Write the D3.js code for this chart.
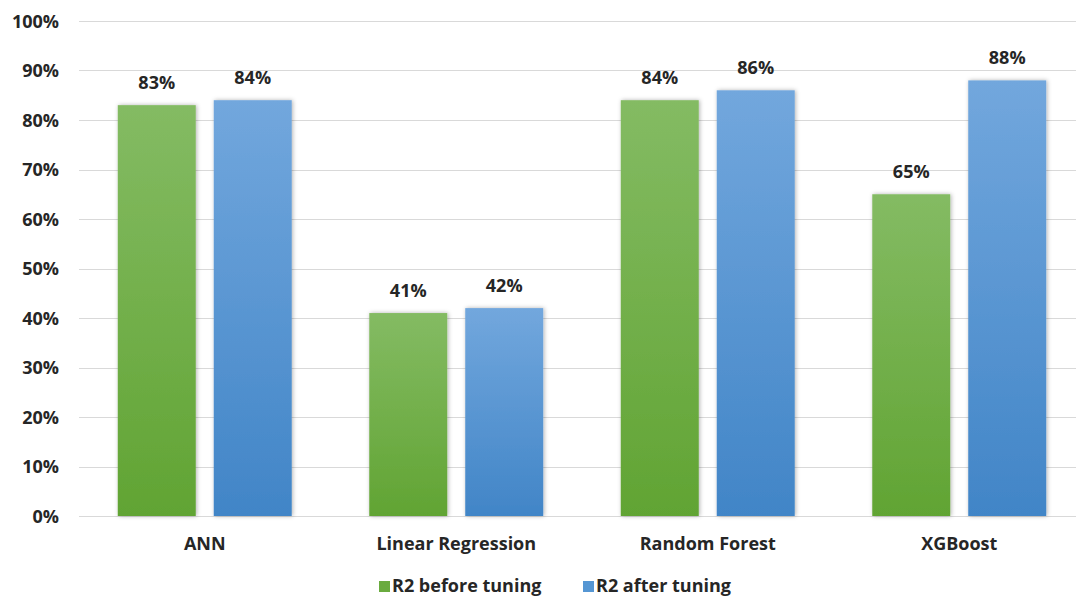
<!DOCTYPE html>
<html>
<head>
<meta charset="utf-8">
<script src="https://cdn.jsdelivr.net/npm/d3@7"></script>
<style>
  html, body { margin: 0; padding: 0; background: #fff; }
  svg text { font-family: "Open Sans", Lato, "Liberation Sans", sans-serif; font-weight: bold; fill: #262626; }
</style>
</head>
<body>
<svg id="chart" width="1076" height="598"></svg>
<script>
// Model accuracy (R2) before and after hyper-parameter tuning
const models = ["ANN", "Linear Regression", "Random Forest", "XGBoost"];
const before = [0.83, 0.41, 0.84, 0.65];
const after = [0.84, 0.42, 0.86, 0.88];
const seriesNames = ["R2 before tuning", "R2 after tuning"];
const yTicks = [0, 0.1, 0.2, 0.3, 0.4, 0.5, 0.6, 0.7, 0.8, 0.9, 1.0];

const svg = d3.select("#chart");
const plot = { left: 79, right: 1085, top: 21, bottom: 516 };

const x = d3.scaleBand().domain(models).range([plot.left, plot.right]).paddingInner(0).paddingOuter(0);
const inner = d3.scaleBand().domain(seriesNames).range([0, x.bandwidth()]).paddingInner(0.1875).paddingOuter(0.404);
const y = d3.scaleLinear().domain([0, 1]).range([plot.bottom, plot.top]);

const defs = svg.append("defs");
const grads = [
  { id: "gGreen", top: "#84bb63", bottom: "#61a433" },
  { id: "gBlue", top: "#72a7dd", bottom: "#4185c7" }
];
grads.forEach(g => {
  const lg = defs.append("linearGradient").attr("id", g.id).attr("x1", 0).attr("y1", 0).attr("x2", 0).attr("y2", 1);
  lg.append("stop").attr("offset", "0%").attr("stop-color", g.top);
  lg.append("stop").attr("offset", "100%").attr("stop-color", g.bottom);
});
const shadow = defs.append("filter").attr("id", "shadow").attr("x", "-20%").attr("y", "-10%").attr("width", "140%").attr("height", "120%");
shadow.append("feDropShadow").attr("dx", 1).attr("dy", 0).attr("stdDeviation", 2).attr("flood-color", "#000").attr("flood-opacity", 0.3);

// Grid lines
svg.append("g")
  .selectAll("line")
  .data(yTicks)
  .join("line")
  .attr("x1", plot.left).attr("x2", 1076)
  .attr("y1", d => Math.round(y(d)) + 0.5).attr("y2", d => Math.round(y(d)) + 0.5)
  .attr("stroke", "#d9d9d9").attr("stroke-width", 1);

// Y axis labels
const yAxis = d3.axisLeft(y).tickValues(yTicks).tickFormat(d3.format(".0%")).tickSize(0).tickPadding(0);
const yg = svg.append("g").attr("transform", `translate(${plot.left - 20},0)`).call(yAxis);
yg.select(".domain").remove();
yg.selectAll("text").attr("font-size", 18).attr("dy", "0.35em").style("font-family", null);

// Bars
const series = [
  { name: seriesNames[0], values: before, fill: "url(#gGreen)" },
  { name: seriesNames[1], values: after, fill: "url(#gBlue)" }
];
series.forEach(s => {
  const g = svg.append("g");
  g.selectAll("rect")
    .data(models.map((m, i) => ({ m, v: s.values[i] })))
    .join("rect")
    .attr("x", d => x(d.m) + inner(s.name))
    .attr("width", inner.bandwidth())
    .attr("y", d => y(d.v))
    .attr("height", d => y(0) - y(d.v))
    .attr("fill", s.fill)
    .attr("filter", "url(#shadow)");
  g.selectAll("text")
    .data(models.map((m, i) => ({ m, v: s.values[i] })))
    .join("text")
    .attr("x", d => x(d.m) + inner(s.name) + inner.bandwidth() / 2)
    .attr("y", d => y(d.v) - 16)
    .attr("text-anchor", "middle")
    .attr("font-size", 18)
    .text(d => d3.format(".0%")(d.v));
});

// Category labels
const xAxis = d3.axisBottom(x).tickSize(0).tickPadding(0);
const xg = svg.append("g").attr("transform", `translate(0,${plot.bottom + 34})`).call(xAxis);
xg.select(".domain").remove();
xg.selectAll("text").attr("font-size", 18).attr("dy", 0).style("font-family", null);

// Legend
const legendItems = [
  { name: seriesNames[0], color: "#6aab3f", x: 379 },
  { name: seriesNames[1], color: "#5596d3", x: 583 }
];
const lg = svg.append("g");
legendItems.forEach(it => {
  lg.append("rect").attr("x", it.x).attr("y", 581).attr("width", 11).attr("height", 11).attr("fill", it.color);
  lg.append("text").attr("x", it.x + 13).attr("y", 592).attr("font-size", 18).text(it.name);
});
</script>
</body>
</html>
